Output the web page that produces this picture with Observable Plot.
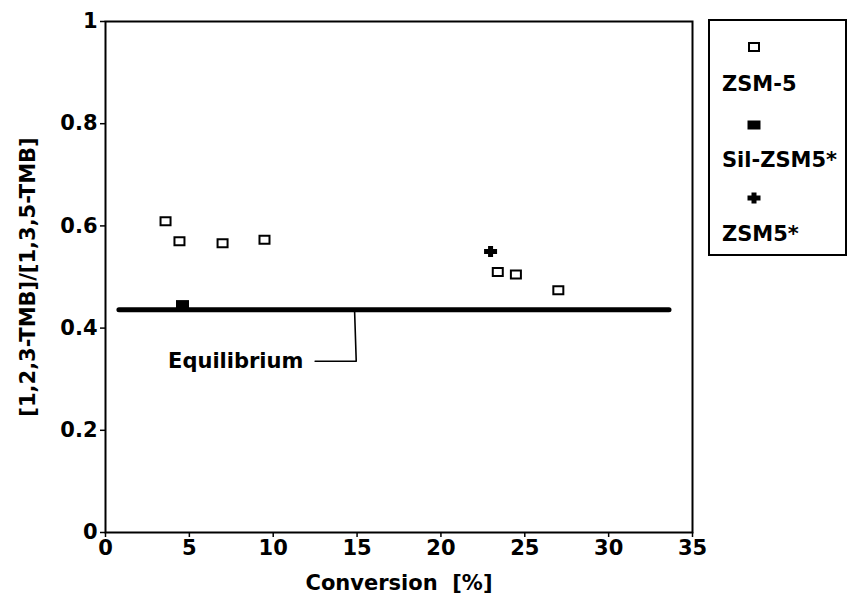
<!DOCTYPE html>
<html>
<head>
<meta charset="utf-8">
<script src="https://cdn.jsdelivr.net/npm/d3@7"></script>
<script src="https://cdn.jsdelivr.net/npm/@observablehq/plot@0.6"></script>
<style>
  html, body { margin: 0; padding: 0; background: #fff; }
  #wrap { position: relative; width: 848px; height: 601px; font-family: "DejaVu Sans", sans-serif; font-weight: bold; }
  #legend { position: absolute; left: 708px; top: 19px; width: 139px; height: 237px; border: 2px solid #000; box-sizing: border-box; }
  #legend .lab { position: absolute; left: 12px; font-size: 21px; line-height: 1; transform: translateY(-50%); white-space: nowrap; }
  #legend svg { position: absolute; }
</style>
</head>
<body>
<div id="wrap"></div>
<script>
// Conversion [%] vs. ratio of 1,2,3-TMB to 1,3,5-TMB
const zsm5Conv  = [3.58, 4.41, 6.98, 9.48, 23.39, 24.47, 27.0];
const zsm5Ratio = [0.609, 0.570, 0.566, 0.573, 0.510, 0.505, 0.474];

const silConv  = [4.59];
const silRatio = [0.446];

const starConv  = [22.96];
const starRatio = [0.550];

// equilibrium ratio and the conversion range it is drawn over
const eqRatio = 0.436;
const eqConv  = [0.8, 33.6];

// leader from the equilibrium line to its label
const leaderConv  = [14.85, 14.95, 12.5];
const leaderRatio = [eqRatio, 0.335, 0.335];
const eqLabel = "Equilibrium";

const xTicks = [0, 5, 10, 15, 20, 25, 30, 35];
const yTicks = [0, 0.2, 0.4, 0.6, 0.8, 1];
const xTitle = "Conversion  [%]";
const yTitle = "[1,2,3-TMB]/[1,3,5-TMB]";

const seriesNames = ["ZSM-5", "Sil-ZSM5*", "ZSM5*"];

// marker shapes
const openRect = { draw(ctx) { ctx.rect(-5, -4, 10, 8); } };
const fillRect = { draw(ctx) { ctx.rect(-6.5, -4.5, 13, 9); } };
const fatPlus = { draw(ctx) {
  ctx.moveTo(-2.5, -5.5); ctx.lineTo(2.5, -5.5); ctx.lineTo(2.5, -2.5);
  ctx.lineTo(6.5, -2.5); ctx.lineTo(6.5, 2.5); ctx.lineTo(2.5, 2.5);
  ctx.lineTo(2.5, 5.5); ctx.lineTo(-2.5, 5.5); ctx.lineTo(-2.5, 2.5);
  ctx.lineTo(-6.5, 2.5); ctx.lineTo(-6.5, -2.5); ctx.lineTo(-2.5, -2.5);
  ctx.closePath();
} };

const zsm5 = zsm5Conv.map((c, i) => ({c, r: zsm5Ratio[i]}));
const sil = silConv.map((c, i) => ({c, r: silRatio[i]}));
const star = starConv.map((c, i) => ({c, r: starRatio[i]}));
const eqLine = eqConv.map(c => ({c, r: eqRatio}));
const leader = leaderConv.map((c, i) => ({c, r: leaderRatio[i]}));

const chart = Plot.plot({
  width: 848,
  height: 601,
  marginLeft: 105,
  marginRight: 156,
  marginTop: 21,
  marginBottom: 69,
  style: { fontFamily: "DejaVu Sans, sans-serif", fontSize: "21px", fontWeight: "bold", color: "#000", background: "#fff", overflow: "visible" },
  x: { domain: [0, 35] },
  y: { domain: [0, 1] },
  marks: [
    Plot.frame({ stroke: "#000", strokeWidth: 2 }),
    Plot.axisX({ ticks: xTicks, tickSize: 5, tickPadding: 3, tickFormat: d => String(d), label: null, strokeWidth: 1.5 }),
    Plot.axisY({ ticks: yTicks, tickSize: 5, tickPadding: 3, tickFormat: d => String(d), label: null, strokeWidth: 1.5 }),
    Plot.text([xTitle], { frameAnchor: "bottom", dy: 51, lineAnchor: "middle", textAnchor: "middle", text: d => d }),
    Plot.text([yTitle], { frameAnchor: "left", dx: -77, rotate: -90, lineAnchor: "middle", textAnchor: "middle", text: d => d }),
    Plot.line(eqLine, { x: "c", y: "r", stroke: "#000", strokeWidth: 5 }),
    Plot.line(leader, { x: "c", y: "r", stroke: "#000", strokeWidth: 1.6, curve: "linear" }),
    Plot.text([eqLabel], { x: leaderConv[2] - 0.7, y: leaderRatio[2], textAnchor: "end", lineAnchor: "middle", text: d => d }),
    Plot.dot(zsm5, { x: "c", y: "r", symbol: openRect, stroke: "#000", fill: "#fff", strokeWidth: 2 }),
    Plot.dot(sil, { x: "c", y: "r", symbol: fillRect, fill: "#000", stroke: "none" }),
    Plot.dot(star, { x: "c", y: "r", symbol: fatPlus, fill: "#000", stroke: "none" })
  ]
});

const wrap = document.getElementById("wrap");
wrap.appendChild(chart);

// legend box at the right of the plot
const legend = d3.select(wrap).append("div").attr("id", "legend");
const legendShapes = [openRect, fillRect, fatPlus];
const shapeStyle = [
  { fill: "#fff", stroke: "#000", sw: 2 },
  { fill: "#000", stroke: "none", sw: 0 },
  { fill: "#000", stroke: "none", sw: 0 }
];
const symbolTops = [26, 104, 177];
const labelMids = [63, 139, 213];
seriesNames.forEach((name, i) => {
  const svg = legend.append("svg")
    .attr("width", 20).attr("height", 16)
    .style("left", (44 - 10) + "px")
    .style("top", (symbolTops[i] - 8) + "px");
  svg.append("path")
    .attr("transform", "translate(10,8)")
    .attr("d", d3.symbol(legendShapes[i])())
    .attr("fill", shapeStyle[i].fill)
    .attr("stroke", shapeStyle[i].stroke)
    .attr("stroke-width", shapeStyle[i].sw);
  legend.append("div").attr("class", "lab")
    .style("top", labelMids[i] + "px")
    .text(name);
});
</script>
</body>
</html>
